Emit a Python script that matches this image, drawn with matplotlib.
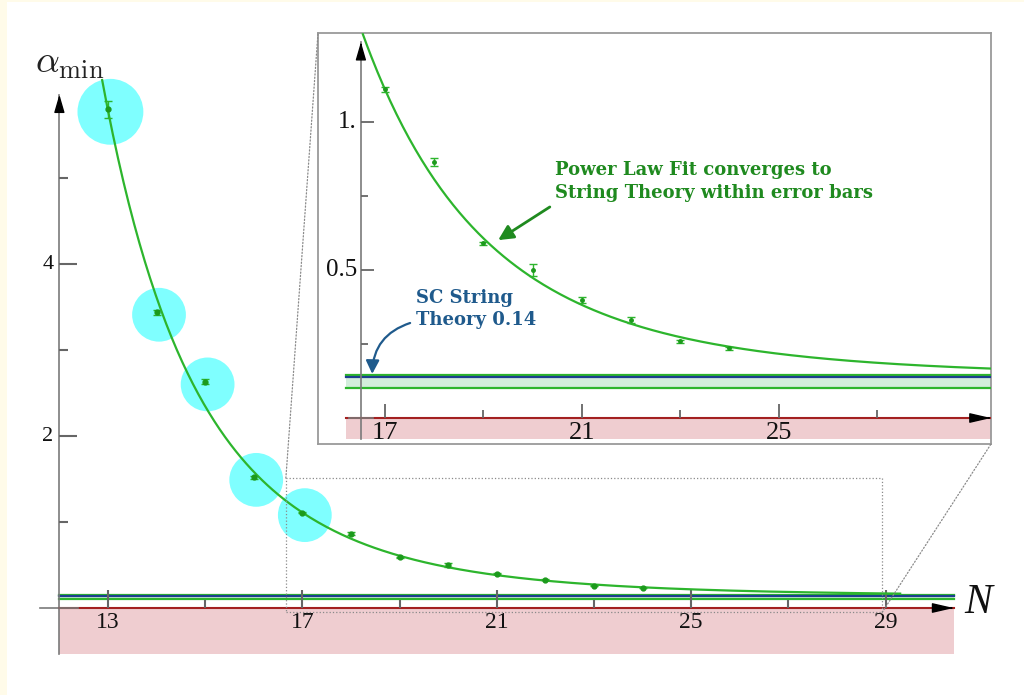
import numpy as np
import matplotlib.pyplot as plt
from matplotlib.patches import Rectangle, ConnectionPatch

plt.rcParams['mathtext.fontset'] = 'cm'

# measured alpha_min values vs N
N = np.array([13, 14, 15, 16, 17, 18, 19, 20, 21, 22, 23, 24])
alpha = np.array([5.80, 3.44, 2.63, 1.52, 1.11, 0.865, 0.59, 0.50, 0.40, 0.33, 0.26, 0.235])
err = np.array([0.10, 0.03, 0.03, 0.02, 0.008, 0.013, 0.005, 0.02, 0.01, 0.01, 0.005, 0.005])
n_circled = 5

string_theory = 0.14
band_top = 0.146
band_low = 0.10

xmajor = [13, 17, 21, 25, 29]
xminor = [15, 19, 23, 27]
ymajor = [2, 4]
yminor = [1, 3, 5]
ins_xmajor = [17, 21, 25]
ins_xminor = [19, 23, 27]
ins_ymajor = [0.5, 1.0]
ins_ylabels = ['0.5', '1.']
ins_yminor = [0.25, 0.75]

# power law fit alpha = c + a * N^-p with the asymptote at the string theory value,
# weighted by the error bars (log space, sigma_log = err / (alpha - c))
c_fit = string_theory
resid = alpha - c_fit
slope, icept = np.polyfit(np.log(N), np.log(resid), 1, w=resid / err)

def fit(n):
    return c_fit + np.exp(icept) * n ** slope

GREEN = '#2db52d'
DGREEN = '#1c9a1c'
PINK = '#efcdd0'
RED = '#a32020'
GRAY = '#7a7a7a'
BLUE = '#1c3f8f'
SERIF = 'Liberation Serif'

fig = plt.figure(figsize=(10.24, 6.95), dpi=100)
fig.patches.append(Rectangle((0, 0), 7 / 1024, 1, transform=fig.transFigure,
                             color='#fffbe9', lw=0))
fig.patches.append(Rectangle((0, 1 - 2 / 695), 1, 2 / 695, transform=fig.transFigure,
                             color='#fffbe9', lw=0))

ax = fig.add_axes([0, 0, 1, 1])
ax.set_xlim(10.778, 31.848)
ax.set_ylim(-1.0116, 7.070)
ax.axis('off')


def draw_frame(a, x0, x1, ybot, ytop, xarrow, bandx0, kx):
    # pink band under the axis
    a.fill_between([bandx0, x1], ybot, 0, color=PINK, lw=0, zorder=1)
    # string theory band
    a.fill_between([bandx0, x1], band_low, band_top, color='#d2eedb', lw=0, zorder=2)
    a.plot([bandx0, x1], [band_top, band_top], color=GREEN, lw=1.6, zorder=3)
    a.plot([bandx0, x1], [band_low, band_low], color=GREEN, lw=1.6, zorder=3)
    a.plot([bandx0, x1], [string_theory, string_theory], color=BLUE, lw=1.6, zorder=3)
    # axes lines
    a.plot([x0, x0], [ybot, ytop], color=GRAY, lw=1.2, zorder=4)
    a.plot([bandx0, x1], [0, 0], color=RED, lw=1.5, zorder=4)
    a.plot([x0 - kx, x0 + kx], [0, 0], color=GRAY, lw=1.2, zorder=4)
    a.annotate('', xy=(x0, ytop), xytext=(x0, ytop - 0.01 * (ytop - ybot)),
               arrowprops=dict(arrowstyle='-|>,head_length=1.1,head_width=0.32',
                               color='k', lw=1, shrinkA=0, shrinkB=0), zorder=6)
    a.annotate('', xy=(xarrow, 0), xytext=(xarrow - 0.05, 0),
               arrowprops=dict(arrowstyle='-|>,head_length=1.3,head_width=0.3',
                               color='k', lw=1, shrinkA=0, shrinkB=0), zorder=6)


# ---- main panel ----
draw_frame(ax, 12, 30.4, -0.53, 5.97, 30.4, 12, 0.39)
ax.plot(xmajor, np.zeros(len(xmajor)), ls='none', marker=2, ms=13, mew=1.5, color='#666666', zorder=5)
ax.plot(xminor, np.zeros(len(xminor)), ls='none', marker=2, ms=6, mew=1.5, color='#666666', zorder=5)
ax.plot(np.full(len(ymajor), 12), ymajor, ls='none', marker=1, ms=13, mew=1.5, color='#666666', zorder=5)
ax.plot(np.full(len(yminor), 12), yminor, ls='none', marker=1, ms=6.5, mew=1.5, color='#666666', zorder=5)
for x in xmajor:
    ax.text(x, -0.17, str(x), ha='center', va='center', fontsize=17, family=SERIF, color='#111111')
for y in ymajor:
    ax.text(11.88, y, str(y), ha='right', va='center', fontsize=16, family=SERIF, color='#111111')

ax.text(11.5, 6.22, r'$\alpha_{\mathrm{min}}$', fontsize=27, ha='left', va='baseline', color='#222222')
ax.text(30.9, 0.06, 'N', fontsize=30, family=SERIF, style='italic', ha='center', va='center', color='#111111')

sizes = np.where(N[:n_circled] == N[0], 2250, 1500)
ax.scatter(N[:n_circled] + 0.05, alpha[:n_circled] - 0.03, s=sizes, color='#00ffff',
           alpha=0.5, lw=0, zorder=6)

nn = np.linspace(12.88, 29.3, 300)
ax.plot(nn, fit(nn), color=GREEN, lw=1.6, zorder=7)
ax.errorbar(N, alpha, yerr=err, fmt='o', ms=3.5, color=DGREEN, ecolor=GREEN,
            elinewidth=1, capsize=3, zorder=8)

# zoom rectangle
zx0, zx1, zy0, zy1 = 16.66, 28.93, -0.05, 1.51
ax.add_patch(Rectangle((zx0, zy0), zx1 - zx0, zy1 - zy0, fill=False, ec='#8a8a8a',
                       ls=':', lw=0.9, zorder=9))

# ---- inset ----
axins = fig.add_axes([318 / 1024, 1 - 444 / 695, 673 / 1024, 411 / 695])
axins.set_xlim(15.638, 29.317)
axins.set_ylim(-0.0878, 1.3007)
axins.set_xticks([])
axins.set_yticks([])
for s in axins.spines.values():
    s.set_color('#9a9a9a')
    s.set_linewidth(1.3)

draw_frame(axins, 16.51, 29.317, -0.071, 1.27, 29.317, 16.2, 0.24)
axins.plot(ins_xmajor, np.zeros(len(ins_xmajor)), ls='none', marker=2, ms=10, mew=1.3, color='#666666', zorder=5)
axins.plot(ins_xminor, np.zeros(len(ins_xminor)), ls='none', marker=2, ms=5.5, mew=1.3, color='#666666', zorder=5)
axins.plot(np.full(len(ins_ymajor), 16.51), ins_ymajor, ls='none', marker=1, ms=9, mew=1.3, color='#666666', zorder=5)
axins.plot(np.full(len(ins_yminor), 16.51), ins_yminor, ls='none', marker=1, ms=5, mew=1.3, color='#666666', zorder=5)
for x in ins_xmajor:
    axins.text(x, -0.052, str(x), ha='center', va='center', fontsize=19, family=SERIF, color='#111111')
for y, lab in zip(ins_ymajor, ins_ylabels):
    axins.text(16.43, y, lab, ha='right', va='center', fontsize=18, family=SERIF, color='#111111')

nn = np.linspace(16.55, 29.317, 300)
axins.plot(nn, fit(nn), color=GREEN, lw=1.6, zorder=7)
axins.errorbar(N, alpha, yerr=err, fmt='o', ms=2.5, color=DGREEN, ecolor=GREEN,
               elinewidth=1, capsize=3, zorder=8)

axins.text(20.46, 0.80, 'Power Law Fit converges to\nString Theory within error bars',
           ha='left', va='center', fontsize=13, family='DejaVu Serif', weight='bold',
           color='#1f8a1f', linespacing=1.35)
axins.annotate('', xy=(19.30, 0.601), xytext=(20.35, 0.713),
               arrowprops=dict(arrowstyle='-|>,head_length=0.9,head_width=0.45',
                               color='#1f8a1f', lw=2, shrinkA=0, shrinkB=0))
axins.text(17.63, 0.368, 'SC String\nTheory 0.14', ha='left', va='center', fontsize=13,
           family='DejaVu Serif', weight='bold', color='#1f5a8c', linespacing=1.3)
axins.annotate('', xy=(16.74, 0.149), xytext=(17.51, 0.321),
               arrowprops=dict(arrowstyle='-|>,head_length=0.8,head_width=0.4',
                               color='#1f5a8c', lw=1.6, shrinkA=0, shrinkB=0,
                               connectionstyle='arc3,rad=0.35'))

# lines joining zoom box and inset
for xyA, xyB in [((zx0, zy1), (0, 1)), ((zx1, zy0), (1, 0))]:
    con = ConnectionPatch(xyA=xyA, coordsA=ax.transData, xyB=xyB, coordsB=axins.transAxes,
                          color='#8a8a8a', ls=':', lw=0.9)
    fig.add_artist(con)

fig.savefig('out.png', dpi=100)
